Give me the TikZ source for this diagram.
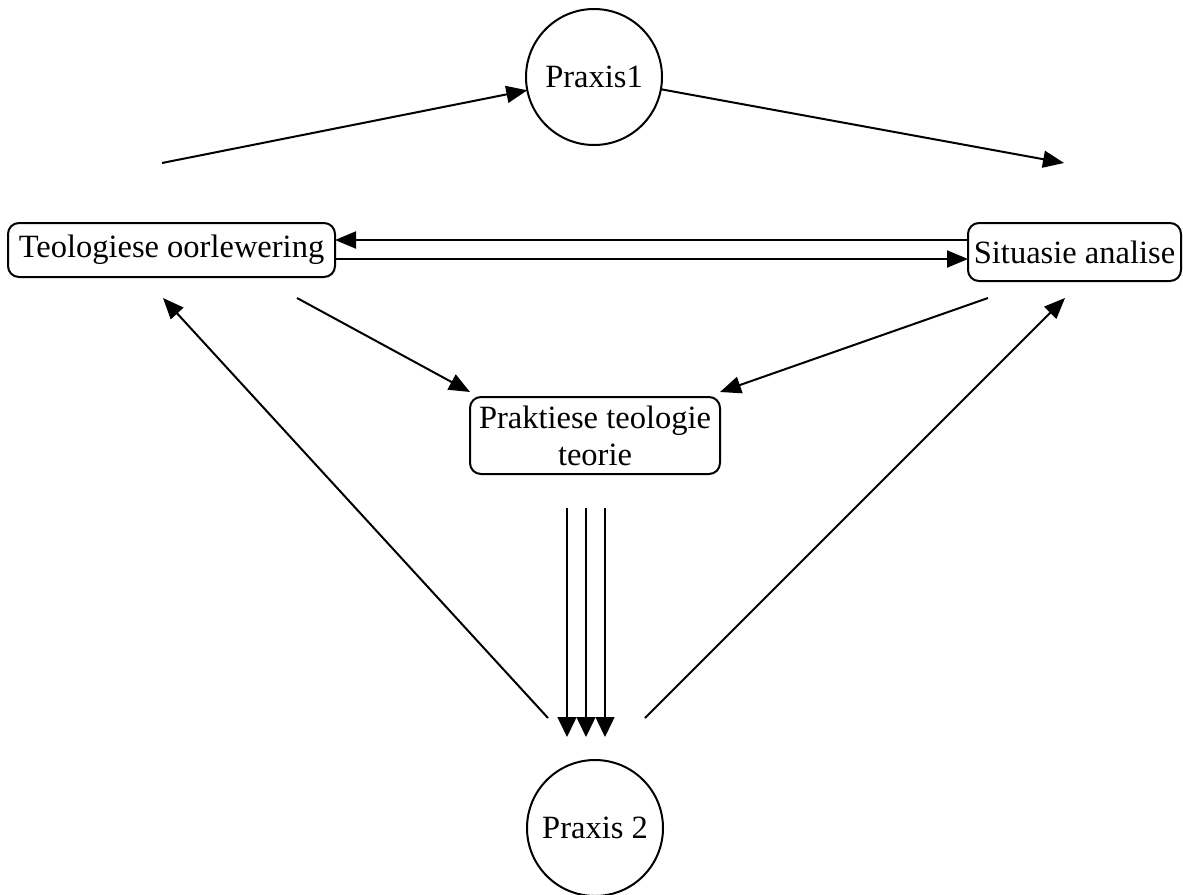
\documentclass[tikz,border=0pt]{standalone}
\usepackage{fontspec}
\setmainfont{Liberation Serif}
\usetikzlibrary{arrows.meta,calc}
\begin{document}
\begin{tikzpicture}[x=1pt,y=1pt,
  font=\fontsize{32.5}{37}\selectfont,
  every node/.style={line width=2pt,inner sep=0pt,outer sep=0pt},
  circ/.style={draw,circle,minimum size=136pt},
  rbox/.style={draw,rounded corners=11pt,align=center},
  arr/.style={line width=2pt,-{Triangle[length=21pt,width=17pt]}},
  thin arr/.style={line width=1.5pt,-{Triangle[length=20pt,width=19pt]}}]
\useasboundingbox (0,0) rectangle (1183,-894);
\node[circ] (p1) at (594,-77) {Praxis1};
\node[rbox,minimum width=327pt,minimum height=54pt] (teo) at (171.5,-250) {Teologiese oorlewering};
\node[rbox,minimum width=213pt,minimum height=58pt] (sit) at (1074.5,-252) {Situasie analise};
\node[rbox,minimum width=250pt,minimum height=77pt] (prak) at (595,-435.5) {Praktiese teologie\\teorie};
\node[circ] (p2) at (595,-828) {Praxis 2};
% free ends
\coordinate (c1) at (162,-163);
\coordinate (c2) at (1064,-163);
\coordinate (c3) at (297,-298);
\coordinate (c4) at (988,-298);
\coordinate (c6) at (548,-718);
\coordinate (c6t) at (163,-298);
\coordinate (c7) at (645,-718);
\coordinate (c7t) at (1065,-298);
% top arrows
\draw[arr] (c1) -- (p1);
\draw[arr] (p1) -- (c2);
% horizontal pair
\draw[arr] ([yshift=12pt]sit.west) coordinate (u) -- (u -| teo.east);
\draw[arr] ([yshift=-9pt]teo.east) coordinate (l) -- (l -| sit.west);
% into praktiese
\draw[arr] (c3) -- ([yshift=5pt]prak.north west);
\draw[arr] (c4) -- ([yshift=5pt]prak.north east);
% three arrows down
\coordinate (tt) at ([yshift=23pt]p2.north);
\foreach \dx/\n in {-28/a,-9/b,10/c}{
  \draw[thin arr] ([xshift=\dx pt,yshift=-34pt]prak.south) coordinate (s\n) -- (s\n |- tt);
}
% long diagonals
\draw[arr] (c6) -- (c6t);
\draw[arr] (c7) -- (c7t);
\end{tikzpicture}
\end{document}
